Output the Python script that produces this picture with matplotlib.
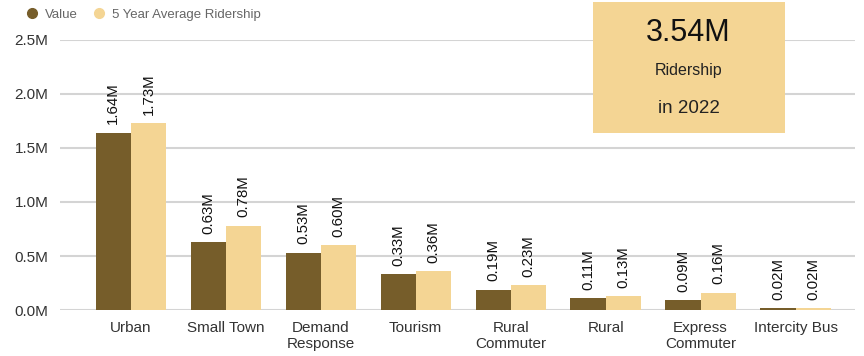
import numpy as np
import matplotlib.pyplot as plt
from matplotlib.patches import Rectangle
from matplotlib.lines import Line2D

categories = ["Urban", "Small Town", "Demand\nResponse", "Tourism", "Rural\nCommuter",
              "Rural", "Express\nCommuter", "Intercity Bus"]
value = [1.64, 0.63, 0.53, 0.33, 0.19, 0.11, 0.09, 0.02]
avg_5yr = [1.73, 0.78, 0.60, 0.36, 0.23, 0.13, 0.16, 0.02]
total = "3.54M"

dark = "#765D2A"
light = "#F4D594"

plt.rcParams["font.family"] = ["Liberation Sans", "DejaVu Sans"]

fig = plt.figure(figsize=(8.64, 3.56), dpi=100)
ax = fig.add_axes([0.069, 0.129, 0.921, 0.759])

x = np.arange(len(categories))
w = 0.37
b1 = ax.bar(x - w / 2, value, w, color=dark, zorder=3)
b2 = ax.bar(x + w / 2, avg_5yr, w, color=light, zorder=3)

# rotated value labels above each bar
for bars, vals in ((b1, value), (b2, avg_5yr)):
    for rect, v in zip(bars, vals):
        ax.annotate(f"{v:.2f}M", (rect.get_x() + rect.get_width() / 2, rect.get_height()),
                    xytext=(0, 6), textcoords="offset points", rotation=90,
                    ha="center", va="bottom", fontsize=10.8, color="#111111")

ax.set_ylim(0, 2.5)
ax.set_xlim(-0.75, 7.63)
ax.set_yticks([0, 0.5, 1.0, 1.5, 2.0, 2.5])
ax.set_yticklabels([f"{t:.1f}M" for t in [0, 0.5, 1.0, 1.5, 2.0, 2.5]])
ax.set_xticks(x)
ax.set_xticklabels(categories)
ax.tick_params(axis="y", length=0, labelsize=11, labelcolor="#333333", pad=8)
ax.tick_params(axis="x", length=0, labelsize=11, labelcolor="#333333", pad=8)
ax.grid(axis="y", color="#D4D4D4", linewidth=1.5, zorder=0)
for s in ax.spines.values():
    s.set_visible(False)

# legend in the top-left corner
handles = [Line2D([], [], marker="o", linestyle="", color=dark, markersize=7),
           Line2D([], [], marker="o", linestyle="", color=light, markersize=7)]
fig.legend(handles, ["Value", "5 Year Average Ridership"], loc="upper left",
           bbox_to_anchor=(0.008, 1.01), ncol=2, frameon=False, fontsize=9.5,
           handletextpad=0.0, columnspacing=0.6, labelcolor="#666666")

# summary card
fig.patches.append(Rectangle((0.686, 0.626), 0.222, 0.368, transform=fig.transFigure,
                             facecolor=light, edgecolor="none", zorder=5))
cx = 0.686 + 0.111
fig.text(cx, 1 - 33 / 356, total, ha="center", va="center", fontsize=22, color="#111111", zorder=6)
fig.text(cx, 1 - 70 / 356, "Ridership", ha="center", va="center", fontsize=11.5, color="#222222", zorder=6)
fig.text(cx, 1 - 108 / 356, "in 2022", ha="center", va="center", fontsize=13.5, color="#222222", zorder=6)

fig.savefig("out.png", dpi=100)
